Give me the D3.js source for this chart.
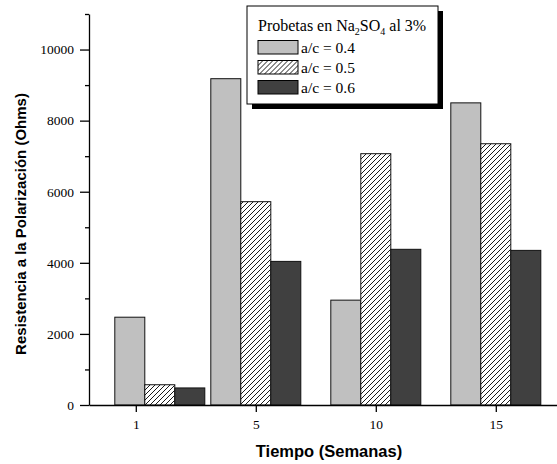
<!DOCTYPE html>
<html>
<head>
<meta charset="utf-8">
<script src="https://cdn.jsdelivr.net/npm/d3@7"></script>
<style>
  body { margin: 0; background: #fff; }
  svg { display: block; }
</style>
</head>
<body>
<div id="chart"></div>
<script>
/* ============================================================
    DATA
============================================================ */
const weeks = ["1", "5", "10", "15"];
// group centres on the tick-index scale (week 1 group sits right of its tick)
const groupPos = [0.2, 1, 2, 3];
const seriesNames = ["a/c = 0.4", "a/c = 0.5", "a/c = 0.6"];
const rp04 = [2470, 9180, 2950, 8500];
const rp05 = [570, 5720, 7070, 7350];
const rp06 = [480, 4040, 4380, 4350];
const yMajorTicks = [0, 2000, 4000, 6000, 8000, 10000];
const yMinorTicks = [1000, 3000, 5000, 7000, 9000, 11000];

const seriesValues = [rp04, rp05, rp06];

/* ============================================================
    CHART
============================================================ */
const WIDTH = 557;
const HEIGHT = 464;
const FILLS = ["#c0c0c0", "url(#hatch)", "#404040"];
const SERIF = "'Liberation Serif', 'Times New Roman', serif";
const SANS = "'Liberation Sans', Arial, sans-serif";

const svg = d3.select("#chart")
  .append("svg")
  .attr("width", WIDTH)
  .attr("height", HEIGHT);

const defs = svg.append("defs");
const pat = defs.append("pattern")
  .attr("id", "hatch")
  .attr("patternUnits", "userSpaceOnUse")
  .attr("width", 5)
  .attr("height", 5);
pat.append("rect").attr("width", 5).attr("height", 5).attr("fill", "#fff");
pat.append("path")
  .attr("d", "M-1,1 L1,-1 M0,5 L5,0 M4,6 L6,4")
  .attr("stroke", "#000")
  .attr("stroke-width", 0.9);

const x = d3.scaleLinear().domain([-0.39, 3.51]).range([89, 557]);
const y = d3.scaleLinear().domain([0, 11000]).range([405, 14]);
const barW = 0.25;

// bars
seriesValues.forEach((vals, s) => {
  svg.append("g")
    .selectAll("rect")
    .data(vals)
    .join("rect")
    .attr("x", (d, i) => x(groupPos[i] + (s - 1.5) * barW))
    .attr("y", (d) => y(d))
    .attr("width", x(barW) - x(0))
    .attr("height", (d) => y(0) - y(d))
    .attr("fill", FILLS[s])
    .attr("stroke", "#111")
    .attr("stroke-width", 1);
});

// y axis
svg.append("g")
  .attr("transform", `translate(${x(-0.39)},0)`)
  .call(d3.axisLeft(y).tickValues(yMajorTicks).tickFormat(d3.format("d"))
    .tickSize(9).tickSizeOuter(0).tickPadding(6));
svg.append("g")
  .attr("transform", `translate(${x(-0.39)},0)`)
  .call(d3.axisLeft(y).tickValues(yMinorTicks).tickSize(4).tickSizeOuter(0).tickFormat(""))
  .select(".domain").remove();

// x axis
svg.append("g")
  .attr("transform", `translate(0,${y(0)})`)
  .call(d3.axisBottom(x).tickValues(d3.range(weeks.length)).tickFormat((i) => weeks[i])
    .tickSize(7).tickSizeOuter(0).tickPadding(7));

svg.selectAll(".domain, .tick line")
  .attr("stroke", "#000")
  .attr("stroke-width", 1.3);
svg.selectAll(".tick text")
  .attr("fill", "#000")
  .attr("font-family", SERIF)
  .attr("font-size", 13.5)
  .style("font-family", SERIF)
  .style("font-size", "13.5px");

// axis titles
svg.append("text")
  .attr("transform", "translate(26,224) rotate(-90)")
  .attr("text-anchor", "middle")
  .style("font-family", SANS)
  .style("font-weight", "bold")
  .style("font-size", "15px")
  .text("Resistencia a la Polarización (Ohms)");

svg.append("text")
  .attr("x", 329)
  .attr("y", 457)
  .attr("text-anchor", "middle")
  .style("font-family", SANS)
  .style("font-weight", "bold")
  .style("font-size", "16.5px")
  .text("Tiempo (Semanas)");

// legend
const lg = svg.append("g").attr("transform", "translate(247,6)");
lg.append("rect")
  .attr("x", 5).attr("y", 5)
  .attr("width", 191).attr("height", 98)
  .attr("fill", "#000");
lg.append("rect")
  .attr("width", 191).attr("height", 98)
  .attr("fill", "#fff")
  .attr("stroke", "#000")
  .attr("stroke-width", 1);

const title = lg.append("text")
  .attr("x", 11).attr("y", 25)
  .style("font-family", SERIF)
  .style("font-size", "16px");
title.append("tspan").text("Probetas en Na");
title.append("tspan").attr("dy", 4).style("font-size", "10px").text("2");
title.append("tspan").attr("dy", -4).text("SO");
title.append("tspan").attr("dy", 4).style("font-size", "10px").text("4");
title.append("tspan").attr("dy", -4).text(" al 3%");

const items = lg.selectAll(".item")
  .data(seriesNames)
  .join("g")
  .attr("class", "item")
  .attr("transform", (d, i) => `translate(11,${34.5 + i * 20})`);
items.append("rect")
  .attr("width", 40).attr("height", 13.5)
  .attr("fill", (d, i) => FILLS[i])
  .attr("stroke", "#000")
  .attr("stroke-width", 1);
items.append("text")
  .attr("x", 43).attr("y", 12)
  .style("font-family", SERIF)
  .style("font-size", "15.5px")
  .text((d) => d);
</script>
</body>
</html>
